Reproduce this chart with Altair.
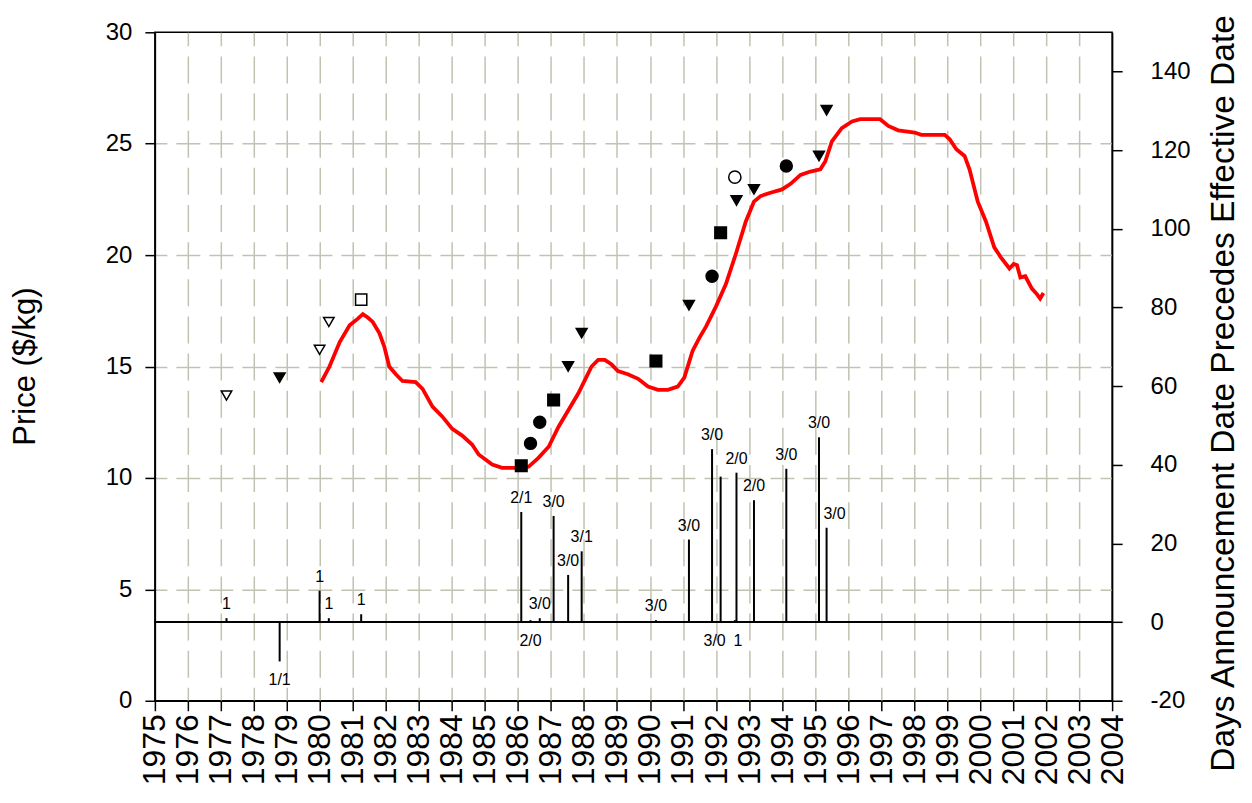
import altair as alt
import pandas as pd

# ---------------- data ----------------
price_year = [1980.04, 1980.29, 1980.6, 1980.9, 1981.15, 1981.3, 1981.45, 1981.6, 1981.8, 1981.95,
              1982.1, 1982.3, 1982.5, 1982.9, 1983.11, 1983.41, 1983.71, 1984.01, 1984.31, 1984.61,
              1984.81, 1985.22, 1985.52, 1986.02, 1986.32, 1986.62, 1986.93, 1987.23, 1987.53, 1987.83,
              1988.03, 1988.23, 1988.43, 1988.63, 1988.83, 1989.03, 1989.33, 1989.64, 1989.94, 1990.24,
              1990.54, 1990.84, 1991.04, 1991.29, 1991.5, 1991.7, 1992.0, 1992.3, 1992.6, 1992.9,
              1993.15, 1993.35, 1993.65, 1994.0, 1994.26, 1994.56, 1994.86, 1995.16, 1995.31, 1995.51,
              1995.81, 1996.12, 1996.37, 1996.97, 1997.22, 1997.52, 1998.02, 1998.22, 1998.93, 1999.08,
              1999.28, 1999.53, 1999.68, 1999.93, 2000.18, 2000.43, 2000.63, 2000.89, 2001.02, 2001.12,
              2001.22, 2001.37, 2001.57, 2001.72, 2001.82, 2001.92]
price_value = [14.3, 15.0, 16.1, 16.85, 17.15, 17.35, 17.2, 17.0, 16.5, 15.9,
               15.0, 14.65, 14.35, 14.3, 14.0, 13.2, 12.75, 12.2, 11.9, 11.5,
               11.05, 10.6, 10.45, 10.45, 10.5, 10.9, 11.4, 12.3, 13.05, 13.8,
               14.4, 15.0, 15.3, 15.3, 15.1, 14.8, 14.65, 14.45, 14.1, 13.95,
               13.95, 14.1, 14.5, 15.7, 16.3, 16.8, 17.7, 18.7, 20.05, 21.5,
               22.4, 22.65, 22.8, 22.95, 23.2, 23.6, 23.75, 23.85, 24.2, 25.1,
               25.7, 26.0, 26.1, 26.1, 25.8, 25.6, 25.5, 25.4, 25.4, 25.2,
               24.75, 24.45, 23.85, 22.4, 21.5, 20.35, 19.9, 19.4, 19.6, 19.55,
               19.0, 19.05, 18.5, 18.25, 18.05, 18.3]

mk_year = [1977.17, 1979.99, 1980.27,
           1978.78, 1987.52, 1987.93, 1991.18, 1992.62, 1993.15, 1995.12, 1995.35,
           1981.25,
           1986.1, 1987.08, 1990.18, 1992.14,
           1986.38, 1986.66, 1991.88, 1994.13,
           1992.57]
mk_price = [13.7, 15.75, 17.0,
            14.5, 15.0, 16.5, 17.75, 22.45, 22.95, 24.45, 26.5,
            18.0,
            10.55, 13.5, 15.25, 21.0,
            11.55, 12.5, 19.05, 24.0,
            23.5]
mk_kind = ["open_tri"] * 3 + ["filled_tri"] * 8 + ["open_sq"] + ["filled_sq"] * 4 + \
          ["filled_circ"] * 4 + ["open_circ"]

bar_year = [1977.17, 1978.78, 1979.99, 1980.27, 1981.25, 1986.1, 1986.38, 1986.66, 1987.08,
            1987.52, 1987.93, 1990.18, 1991.18, 1991.88, 1992.14, 1992.57, 1992.62, 1993.15,
            1994.13, 1995.12, 1995.35]
bar_days = [1, -10, 8, 1, 2, 28, 0.5, 1, 27,
            12, 18, 0.5, 21, 44, 37, 0.5, 38, 31,
            39, 47, 24]
bar_label = ["1", "1/1", "1", "1", "1", "2/1", "2/0", "3/0", "3/0",
             "3/0", "3/1", "3/0", "3/0", "3/0", "3/0", "1", "2/0", "2/0",
             "3/0", "3/0", "3/0"]
# where each label sits relative to its bar
bar_side = ["above", "below", "above", "above", "above", "above", "below", "above", "above",
            "above", "above", "above", "above", "above", "below_left", "below_right", "above", "above",
            "above", "above", "above_right"]

year_ticks = list(range(1975, 2005))
price_ticks = [0, 5, 10, 15, 20, 25, 30]
days_ticks = [-20, 0, 20, 40, 60, 80, 100, 120, 140]

price_df = pd.DataFrame({"year": price_year, "price": price_value})
mk_df = pd.DataFrame({"year": mk_year, "price": mk_price, "kind": mk_kind})
bar_df = pd.DataFrame({"year": bar_year, "days": bar_days, "label": bar_label, "side": bar_side})

# ---------------- style ----------------
FONT = "Liberation Sans"
GRID = "#c2c2b2"
W, H = 958, 669

xscale = alt.Scale(domain=[1975, 2004], nice=False, zero=False)
xaxis = alt.Axis(values=year_ticks, format="d", labelAngle=270, labelFontSize=32,
                 labelPadding=3, labelColor="black", tickSize=10, tickWidth=1.5,
                 tickColor="black", domainColor="black", domainWidth=1.5,
                 grid=True, gridColor=GRID, gridWidth=1.5, gridDash=[27, 10.17],
                 gridDashOffset=13.5,
                 gridOpacity={"condition": {"test": "datum.value <= 1975 || datum.value >= 2004", "value": 0}, "value": 1},
                 title=None)
X = alt.X("year:Q", scale=xscale, axis=xaxis)

yscale = alt.Scale(domain=[0, 30], nice=False, zero=False)
yaxis = alt.Axis(values=price_ticks, orient="left", labelFontSize=24, labelPadding=13,
                 labelColor="black", tickSize=10, tickWidth=1.5, tickColor="black",
                 domainColor="black", domainWidth=1.5,
                 grid=True, gridColor=GRID, gridWidth=1.5, gridDash=[24, 9.03],
                 gridDashOffset=12,
                 gridOpacity={"condition": {"test": "datum.value <= 0 || datum.value >= 30", "value": 0}, "value": 1},
                 title="Price ($/kg)", titleFontSize=31, titleFontWeight="normal",
                 titleColor="black", titleAngle=270, titleX=-120, titleY=334,
                 titleAlign="center", titleBaseline="alphabetic")

RT = "Days Announcement Date Precedes Effective Date"
rscale = alt.Scale(domain=[-20, 150], nice=False, zero=False)
raxis = alt.Axis(values=days_ticks, orient="right", labelFontSize=24, labelPadding=28,
                 labelAlign="left", labelColor="black", tickSize=10, tickWidth=1.5,
                 tickColor="black", domainColor="black", domainWidth=1.5, grid=False,
                 labelExpr="datum.value < 0 ? '-' + abs(datum.value) : '' + datum.value",
                 title=RT, titleFontSize=33.5,
                 titleFontWeight="normal", titleColor="black", titleAngle=270,
                 titleX=121, titleY=361, titleAlign="center", titleBaseline="alphabetic")

# ---------------- left group (price) ----------------
Yp = alt.Y("price:Q", scale=yscale, axis=yaxis, title="Price ($/kg)")

line = alt.Chart(price_df).mark_line(color="#ff0000", strokeWidth=3.8).encode(x=X, y=Yp)

kinds = ["open_tri", "filled_tri", "open_sq", "filled_sq", "filled_circ", "open_circ"]
points = alt.Chart(mk_df).mark_point(filled=True, stroke="black", strokeWidth=1.5,
                                     opacity=1).encode(
    x=X,
    y=Yp,
    shape=alt.Shape("kind:N", legend=None, scale=alt.Scale(
        domain=kinds,
        range=["triangle-down", "triangle-down", "square", "square", "circle", "circle"])),
    fill=alt.Fill("kind:N", legend=None, scale=alt.Scale(
        domain=kinds, range=["white", "black", "white", "black", "black", "white"])),
    size=alt.Size("kind:N", legend=None, scale=alt.Scale(
        domain=kinds, range=[110, 150, 80, 110, 100, 80])),
)

left = alt.layer(line, points)

# ---------------- right group (days) ----------------
Yd = alt.Y("days:Q", scale=rscale, axis=raxis, title=RT)

bars = alt.Chart(bar_df).transform_calculate(base="0").mark_rule(
    color="black", strokeWidth=2).encode(x=X, y=Yd, y2=alt.Y2("base:Q"))

zero = alt.Chart(bar_df).transform_calculate(zero="0").mark_rule(
    color="black", strokeWidth=1.5).encode(y=alt.Y("zero:Q", scale=rscale, axis=raxis, title=RT))


def above(side, dx):
    return alt.Chart(bar_df).transform_filter(f"datum.side == '{side}'").mark_text(
        baseline="alphabetic", dy=-9, dx=dx, fontSize=16, font=FONT, color="black").encode(
        x=X, y=Yd, text="label:N")


def below(side, dx):
    return alt.Chart(bar_df).transform_filter(f"datum.side == '{side}'").transform_calculate(
        ypos="min(datum.days, 0)").mark_text(
        baseline="top", dy=11, dx=dx, fontSize=16, font=FONT, color="black").encode(
        x=X, y=alt.Y("ypos:Q", scale=rscale, axis=raxis, title=RT), text="label:N")


right = alt.layer(bars, zero, above("above", 0), above("above_right", 8),
                  below("below", 0), below("below_left", -6), below("below_right", 3))

chart = alt.layer(left, right).resolve_scale(y="independent").properties(
    width=W, height=H,
    autosize=alt.AutoSizeParams(type="none"),
    padding={"left": 147, "top": 24, "right": 132, "bottom": 90},
).configure_view(stroke="black", strokeWidth=1.5).configure_axis(
    labelFont=FONT, titleFont=FONT)

chart.save("out.html", embed_options={"renderer": "svg", "actions": False})
